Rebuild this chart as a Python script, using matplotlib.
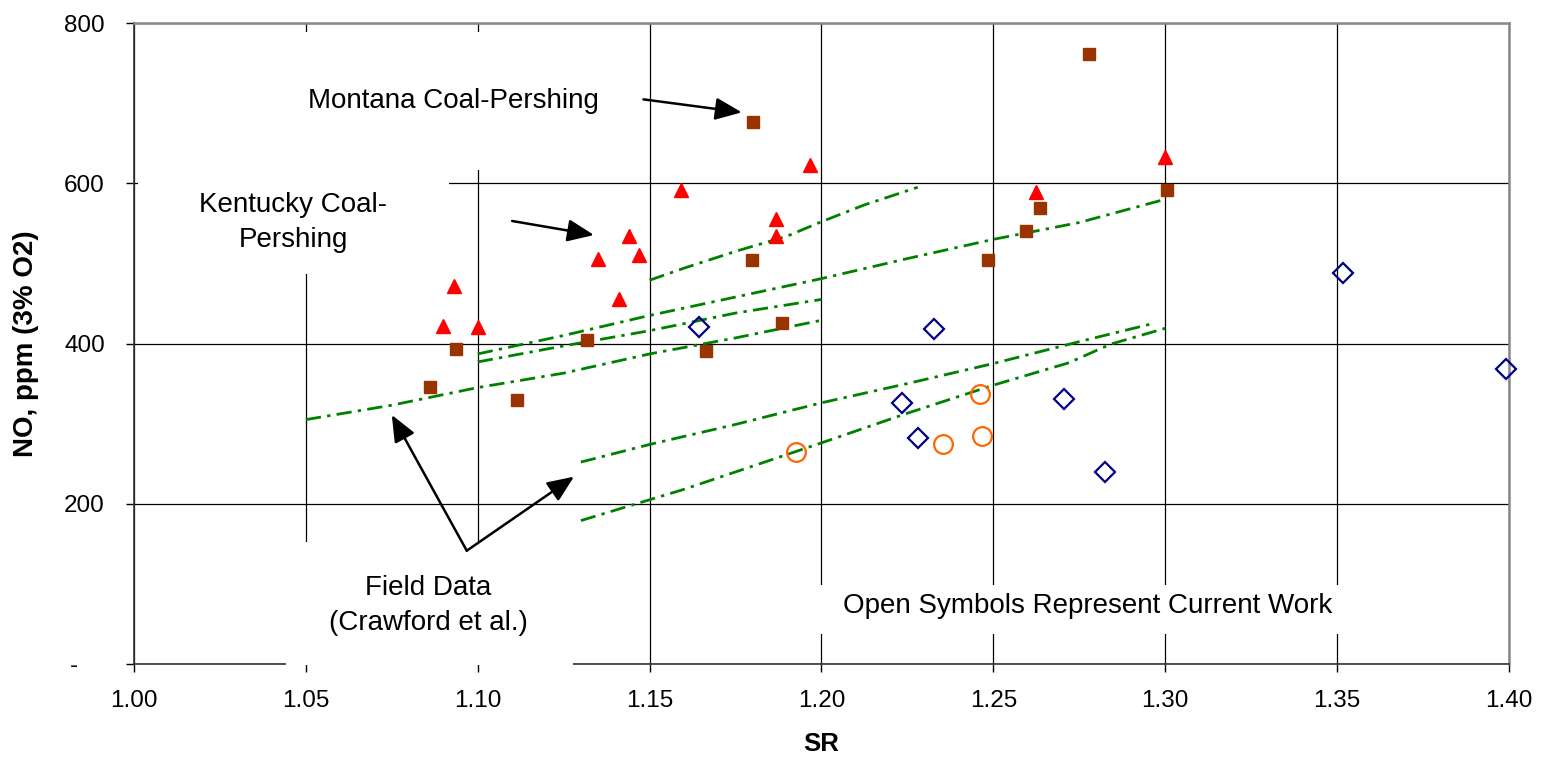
import matplotlib

matplotlib.use("Agg")
import matplotlib.pyplot as plt
from matplotlib.patches import Rectangle

plt.rcParams["font.family"] = ["Liberation Sans", "DejaVu Sans"]
plt.rcParams["lines.scale_dashes"] = False

# Montana Coal-Pershing (filled squares)
sr_montana = [1.086, 1.0936, 1.1115, 1.1318, 1.1665, 1.1797, 1.1802, 1.1884,
              1.2485, 1.2596, 1.2636, 1.2778, 1.3006]
no_montana = [346, 393, 329, 404, 391, 504, 677, 425, 504, 541, 569, 761, 592]

# Kentucky Coal-Pershing (filled triangles)
sr_kentucky = [1.0898, 1.0932, 1.1002, 1.1349, 1.1412, 1.1441, 1.1470, 1.1591,
               1.1868, 1.1868, 1.1966, 1.2623, 1.2998]
no_kentucky = [422, 472, 420, 505, 456, 534, 510, 592, 555, 534, 623, 589, 633]

# current work (open symbols)
sr_diamond = [1.1645, 1.2233, 1.2281, 1.2326, 1.2704, 1.2824, 1.3517, 1.399]
no_diamond = [421, 326, 282, 418, 331, 240, 488, 368]
sr_circle = [1.1925, 1.2353, 1.2462, 1.2468]
no_circle = [265, 275, 337, 285]

# field data (Crawford et al.) traces
field_lines = [
    ([1.05, 1.075, 1.10, 1.125, 1.15, 1.175, 1.20],
     [305, 323, 345, 363, 387, 407, 429]),
    ([1.10, 1.125, 1.15, 1.175, 1.20],
     [377, 397, 416, 438, 455]),
    ([1.10, 1.125, 1.15, 1.175, 1.20, 1.225, 1.25, 1.275, 1.30],
     [387, 410, 435, 458, 481, 506, 530, 551, 580]),
    ([1.15, 1.16, 1.175, 1.19, 1.20, 1.2125, 1.228],
     [479, 494, 515, 534, 552, 573, 595]),
    ([1.13, 1.15, 1.175, 1.20, 1.225, 1.25, 1.2775, 1.2965],
     [252, 274, 299, 326, 350, 375, 405, 425]),
    ([1.13, 1.15, 1.16, 1.20, 1.225, 1.25, 1.272, 1.284, 1.30],
     [179, 205, 218, 276, 313, 348, 376, 399, 419]),
]

x_ticks = [1.00, 1.05, 1.10, 1.15, 1.20, 1.25, 1.30, 1.35, 1.40]
y_ticks = [0, 200, 400, 600, 800]
y_tick_labels = ["-    ", "200", "400", "600", "800"]

fig = plt.figure(figsize=(15.45, 7.67), dpi=100)
ax = fig.add_axes([134 / 1545, 103 / 767, 1375 / 1545, 641 / 767])
ax.set_xlim(1.0, 1.4)
ax.set_ylim(0, 800)
ax.set_axisbelow(True)

ax.set_xticks(x_ticks)
ax.set_xticklabels([f"{v:.2f}" for v in x_ticks])
ax.set_yticks(y_ticks)
ax.set_yticklabels(y_tick_labels)
ax.tick_params(axis="x", length=6, width=1, pad=13, labelsize=17.5)
ax.tick_params(axis="y", length=6, width=1, pad=15, labelsize=17.5)
ax.grid(True, color="black", lw=0.9)

for side in ("left", "bottom"):
    ax.spines[side].set_color("#333333")
    ax.spines[side].set_linewidth(1.2)
for side in ("top", "right"):
    ax.spines[side].set_color("#888888")
    ax.spines[side].set_linewidth(1.8)

# white label boxes that hide the grid, as in the original sheet
boxes = [
    (1.0367, 616.5, 1.1472 - 1.0367, 788.7 - 616.5),
    (1.0012, 486.7, 1.0915 - 1.0012, 616.5 - 486.7),
    (1.199, 37.4, 1.3523 - 1.199, 98.6 - 37.4),
    (1.0442, -1.0, 1.1277 - 1.0442, 153.6),
]
for x, y, w, h in boxes:
    ax.add_patch(Rectangle((x, y), w, h, facecolor="white", edgecolor="none",
                           zorder=2.7, clip_on=False))

for xs, ys in field_lines:
    ax.plot(xs, ys, color="#008000", lw=2.0, dashes=(11, 4.5, 2.4, 4.5), zorder=3)

ax.plot(sr_montana, no_montana, "s", color="#993300", ms=8.6, mec="#993300", zorder=4)
ax.plot(sr_kentucky, no_kentucky, "^", color="#FF0000", ms=10.5, mec="#FF0000", zorder=4)
ax.plot(sr_diamond, no_diamond, "D", mfc="none", mec="#000080", mew=1.6, ms=10,
        zorder=4, clip_on=False)
ax.plot(sr_circle, no_circle, "o", mfc="none", mec="#FF6600", mew=1.6, ms=13.5, zorder=4)

txt = dict(fontsize=20, ha="center", va="center", zorder=5)
ax.text(1.093, 702.6, "Montana Coal-Pershing", **txt)
ax.text(1.0463, 551.6, "Kentucky Coal-\nPershing", linespacing=1.45, **txt)
ax.text(1.0857, 73.6, "Field Data\n(Crawford et al.)", linespacing=1.45, **txt)
ax.text(1.2774, 72.0, "Open Symbols Represent Current Work", **txt)

arrow = dict(arrowstyle="-|>,head_length=0.9,head_width=0.38", color="black",
             lw=1.8, mutation_scale=18, shrinkA=0, shrinkB=0)
ax.annotate("", xy=(1.1768, 688.5), xytext=(1.1482, 704.7), arrowprops=arrow, zorder=5)
ax.annotate("", xy=(1.1338, 535.4), xytext=(1.1100, 552.9), arrowprops=arrow, zorder=5)
ax.annotate("", xy=(1.0750, 310.8), xytext=(1.0968, 141.4), arrowprops=arrow, zorder=5)
ax.annotate("", xy=(1.1280, 233.8), xytext=(1.0968, 141.4), arrowprops=arrow, zorder=5)

ax.set_xlabel("SR", fontsize=18.5, fontweight="bold", labelpad=14)
ax.set_ylabel("NO, ppm (3% O2)", fontsize=20, fontweight="bold", labelpad=18)

fig.savefig("out.png", dpi=100)
